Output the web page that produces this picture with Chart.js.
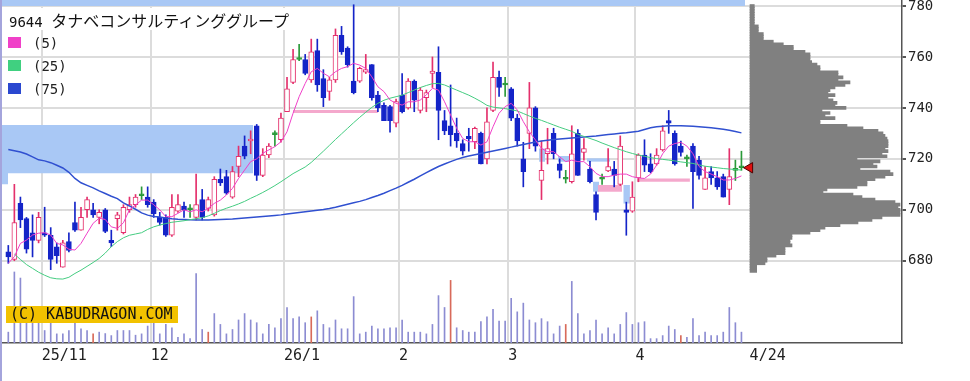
<!DOCTYPE html>
<html><head><meta charset="utf-8">
<script src="https://cdn.jsdelivr.net/npm/chart.js@4/dist/chart.umd.min.js"></script>
<style>
html,body{margin:0;padding:0;background:#fff;}
#wrap{position:relative;width:970px;height:381px;overflow:hidden;background:#fff;}
#c{position:absolute;left:0;top:0;}
#frame{position:absolute;left:0;top:0;width:2px;height:381px;background:#a4a4dc;}
#title{position:absolute;left:5px;top:8px;width:293px;height:22px;background:#fff;font:14px 'DejaVu Sans Mono';color:#111;line-height:22px;white-space:nowrap;padding-left:4px;box-sizing:border-box;}
#title .jp{font:16px 'Noto Sans CJK JP';}
.leg{position:absolute;left:8px;font:14px 'DejaVu Sans Mono';color:#222;height:12px;line-height:12px;white-space:nowrap;}
.leg i{display:inline-block;width:13px;height:11px;vertical-align:top;margin-right:12px;}
#copy{position:absolute;left:6px;top:306px;width:172px;height:17px;background:#f2c200;font:15px 'DejaVu Sans Mono';line-height:17px;color:#111;padding-left:4px;box-sizing:border-box;white-space:nowrap;}
</style></head>
<body>
<div id="wrap">
<canvas id="c" width="970" height="381"></canvas>
<div id="frame"></div>
<div id="title">9644 <span class="jp">タナベコンサルティンググループ</span></div>
<div class="leg" style="top:37px"><i style="background:#f040c8"></i>(5)</div>
<div class="leg" style="top:60px"><i style="background:#40d080"></i>(25)</div>
<div class="leg" style="top:83px"><i style="background:#2a48d0"></i>(75)</div>
<div id="copy">(C) KABUDRAGON.COM</div>
</div>
<script>
// ---- daily candles (index 0 = 2025/10/24 ... index 121 = 2026/4/24) ----
const opens = [683.5,680.5,702.5,696.5,691,688,691,690,685.5,677.5,687.5,695,692,700,700,697,700,688,696.5,691,
700,702,705.5,705,703,697,697,690,699.5,701.5,700,697,704,700.5,698,712,713,705,717,725,
727,733,713.5,721.5,729.5,727.5,738.5,750,759,759,751,762.5,751.5,746.5,751,768.5,763.5,750.5,750.5,754,
757,745,741,740.5,734,745,740,750.5,739,744,753.5,754,735,733,730,726,728.8,726.7,730,720,
739,752,749,747.5,736,720,730,740,711.5,722,730,718,712,711,730,722.5,716,706,712,715.3,
716,710,700,699.5,712.5,721.5,718,718,723.5,735,730,725,720,725,719.5,708,715,712.5,713,708,
715.5,716.5];
const highs = [686,710,705,697,698,699,701,693,687,688,691,703,701,705,702.5,700,700.5,692,699,702,
705,706,709,709,704,699,698,706,706,703,702,714,708,705,713,716,715.5,717,725,729,
731,733.5,724,726,731,738,752,763,765,761,767,767,755,752,771,772,764,780.5,756,761,
757,746.5,742,741,743.5,753.5,751.5,751,748,747,760,764,739,749,736,727.5,732,732.5,730.5,740,
758,754.5,752,748,737.5,726.5,750,740.5,727,732,732,720,715.5,733,731.5,728,719,707,714,724,
719,729,703,711,722,727.5,722,724,733,739,731,727,721.5,726,721,717,717,715,714,724,
719.5,723];
const lows = [679,680,693,683,681.5,687,689.5,676.5,679,677.5,683.5,691.5,692,697,697,694.5,691,685.5,692,690.5,
699,701,704,701,697,694,689.5,689.5,699,697,697,696,696,699.5,697.5,709.5,706,704.5,713,720,
722,711.5,713,720.5,725,726.5,738.5,749.5,758.5,753,750,746.5,740.5,743,750,761,756,745.5,750,753.5,
743,738.5,735,730.5,732.5,738,739.5,738.5,738,738.5,748,727.5,729.5,725,724.5,721.5,723,724,718,718,
738.5,744.5,744.5,735,725,709,724,723,704,718,720,712.5,710.5,710.5,713.5,719.5,710.5,696,710,715,
709,709.5,690,699,711,715,714.5,717.5,723,730,717.5,721,717,700.5,712,708,710,708,705,702,
711.5,715.5];
const closes = [681.5,695,696,684.5,688,697,690,680.5,682,687,684,692,697,704,698,699,691.5,687,698,701,
702,705,705.5,702,698.5,695,690,701,702,700,700,702,697,704,712,710.5,706.5,715,721,721,
727.8,713.5,721.5,725,729.5,736,747.5,759,759,753.5,762,749,744,751,768.5,762,757,746,755.5,755,
744,740,735,735,742.5,738.5,750.5,743,747,746,754.5,739,731,729.5,727,723,727.8,732,718,734.5,
752,748,749,736,727,715,740,725,715.5,724,722,715.5,712,722,713.5,724,711,699,712,717,
713.5,725,699,705,721.5,717.5,715,721.5,731,734,718,722.5,720,715,713.5,712.5,712.5,709,705,713,
715.5,716.5];
// ---- volume (thousand shares) ----
const volumes = [10.7,70,64,21.7,21.7,20,12.3,20.7,9,9,12.3,19.3,14,12.3,9,10.7,9.3,7.3,12.3,12.3,
12.3,7.7,9,16.7,21.7,9,18.3,15,5.7,9,4.3,68.3,13.3,10.7,29,18.3,9,13.3,22.7,29,
22.7,20,9,18.3,15,24,35,24,25.7,20,25.7,31.7,18.3,15,22.7,14,14,45.7,9,10.7,
16.7,14,14,15,15,22.7,10.7,10.7,10.7,9,18.3,46.7,35,61.7,15,12.3,10.7,10.7,21,25.7,
33.3,21.7,21.7,44,30.7,39.3,22.7,20,24,21,9,16.7,18.3,60.7,29,9,12.3,22.7,9,15,
9,18.3,30,18.3,20,21,4.3,4.3,7.3,16.7,13.3,7.3,5.7,24,7.3,10.7,7.3,7.3,10.7,35,
20,10.7];
const redVolumeDays = [14,33,50,73,92,111];
// ---- moving averages ----
const ma5 = [679,681.6,686.8,688.1,690.1,690.8,691,690.1,686.8,686.2,684.5,684.2,686.8,690.8,694.7,696.7,696.2,693.3,692.7,694.9,
700,701.9,703.8,703.8,702,700,697.3,697.3,698.6,700,699.2,700,699.2,700.6,702.5,703.8,705.8,708.4,712.3,715.6,
718.9,720,722.2,723.5,724.8,726.7,730.6,737.9,744.4,749.6,754.2,755.5,753.6,752.2,754.2,755.5,756.2,757.5,756.8,755.5,
752.2,748.3,746.4,743.1,741.8,741.1,742.4,742.4,743.1,745.1,747.7,747,742.4,737.2,732,728,726.7,726.7,725.4,726.7,
732.6,737.9,740.5,741.8,739.2,734.6,730.6,727.4,724.1,722.8,722.8,720.8,718.9,719.5,718.9,718.9,716.9,714.3,713,713,
713.6,714,714,713,712.5,712.3,714,717.5,722,725,726,726.5,725,722,717,715,714,713,711.7,711.7,
712.3,713.3];
const ma25 = [null,682.6,680.5,678.5,677,675.5,674.3,673.3,672.9,672.8,673.5,675,676.3,677.8,679.3,680.9,683,685.5,687.5,689,
690,690.5,691,692.3,693.3,694,694.6,695.1,695.4,695.7,696.1,696.5,696.9,697.6,698.6,699.7,700.6,701.4,702.3,703.3,
704.5,705.6,706.8,708.1,709.5,711,712.6,714.2,715.5,716.8,718.6,720.8,723,725.3,727.6,729.8,732,734.2,736.3,738.3,
740.2,741.8,743,743.8,744.4,745,746,747,748,748.8,749.5,749.6,749,748,747,746,745,743.8,742.5,741,
740.3,740,739.7,739.3,738.8,737.8,736.8,735.9,735.1,734.2,733.3,732.4,731.6,730.8,729.6,728.8,728,727.2,726.2,725.3,
724.4,723.6,722.8,722.1,721.5,721,720.5,720.1,719.8,719.5,719.2,718.8,718.5,718.2,717.6,717.1,716.8,716.5,716.2,716,
715.8,715.6];
const ma75 = [723.7,723.2,722.7,721.9,720.8,719.6,719.2,718.5,717.5,716.4,714.7,712.3,710.6,709.6,708.6,707.4,706.4,705.3,704.4,702.7,
701.5,700.2,698.8,697.9,697.4,697.2,696.8,696.5,696.3,696.2,696.1,696,696,696,696.1,696.2,696.3,696.4,696.6,696.8,
697,697.2,697.4,697.6,697.8,698,698.3,698.6,698.9,699.2,699.5,699.8,700.1,700.5,701,701.6,702.2,702.8,703.3,704,
704.8,705.6,706.5,707.5,708.5,709.6,710.8,712,713.3,714.6,715.8,717,718,718.9,719.8,720.5,721.1,721.6,722.1,722.6,
723.1,723.6,724.1,724.6,725.1,725.6,726.1,726.6,727,727.3,727.6,727.8,728,728.2,728.4,728.6,728.8,729,729.3,729.6,
729.8,730,730.2,730.5,730.8,731.5,732.2,732.6,732.8,733,733,733,732.9,732.8,732.6,732.4,732.2,731.9,731.6,731.2,
730.7,730.2];
// ---- axis ticks ----
const monthStartIdx = [6,24,46,65,83,104];
const xTickLabels = ['25/11','12','26/1','2','3','4','4/24'];
const priceTicks = [680,700,720,740,760,780];
// ---- price-by-volume profile (780 down to 676, 1 yen steps) ----
const profileTopPrice = 780;
const profileVol = [4.3,4.3,4.3,4.3,4.3,4.3,4.3,4.3,8.3,8.3,8.3,13.3,13.3,13.3,23.3,33.3,43.3,43.3,55,60,
60,60,61.7,67,70,70,88,88,93,88,100,95,85,80,78,85,78,83,87,85,
96,72,80,75,85,70,70,97,113,128,133,135,137,138,138,138,135,138,132,137,
107,130,123,127,110,140,143,135,125,117,117,107,77,73,103,112,125,145,150,148,
150,150,150,132,122,108,90,75,70,60,42,42,40,40,42,35,35,35,26,17,
17,15,6.7,6.7,6.7];
// ---- shaded zones ----
const upperZoneX = [-1.04, 56.7, 121.6];
const upperZoneY = [771.8, 780, 780];
const midZoneX = [-1.04, -0.05, 30.8, 40.4];
const midZoneY = [707.1, 710, 714.3, 714.3];
const midZoneTop = 733.3;
const gapBoxes = [ // fromIdx, toIdx, low, high, kind
  [47, 61, 738, 739.2, 'up'],
  [103.7, 112.5, 711, 712.3, 'up'],
  [97.3, 101.3, 707.1, 709.7, 'up'],
  [87.6, 88.6, 718.9, 724.1, 'down'],
  [90.7, 92.7, 718.9, 721.1, 'down'],
  [95.5, 99.3, 718.9, 720.2, 'down'],
  [96.5, 97.5, 707.1, 711, 'down'],
  [101.5, 102.6, 702.5, 709.7, 'down']
];

const UP = '#e4306c', DOWN = '#1424c8', EVEN = '#2a9a3a';
const ZONE = '#a9c8f5', GAPUP = '#f4a8cc';
const n = closes.length;
const kind = i => closes[i] > opens[i] ? UP : (closes[i] < opens[i] ? DOWN : EVEN);
const candleCol = closes.map((c, i) => kind(i));
const idx = closes.map((c, i) => i);

const datasets = [];
datasets.push({type:'line', data: upperZoneX.map((x,i)=>({x, y:upperZoneY[i]})), stepped:'after',
  fill:'end', backgroundColor: ZONE, borderWidth:0, borderColor:'rgba(0,0,0,0)', pointRadius:0, order:20});
datasets.push({type:'line', data: midZoneX.map((x,i)=>({x, y:midZoneY[i]})), stepped:'after',
  fill:{value: midZoneTop}, backgroundColor: ZONE, borderWidth:0, borderColor:'rgba(0,0,0,0)', pointRadius:0, order:20});
gapBoxes.forEach(b => datasets.push({type:'line', data:[{x:b[0], y:b[2]}, {x:b[1], y:b[2]}],
  fill:{value:b[3]}, backgroundColor: b[4]==='up' ? GAPUP : ZONE, borderWidth:0, borderColor:'rgba(0,0,0,0)', pointRadius:0, order:19}));
datasets.push({type:'bar', yAxisID:'yVol', data: volumes.map((v,i)=>({x:i, y:v})),
  backgroundColor: volumes.map((v,i)=> redVolumeDays.includes(i) ? '#d86a5a' : '#8c8cd2'),
  barThickness:1, grouped:false, order:15});
datasets.push({type:'bar', indexAxis:'y', xAxisID:'xProf', yAxisID:'yProf',
  data: profileVol.map((v,i)=>({x:v, y: profileTopPrice - i})),
  backgroundColor:'#808080', barThickness:3, grouped:false, order:14});
datasets.push({type:'bar', data: idx.map(i=>({x:i, y:[lows[i], highs[i]]})),
  backgroundColor: candleCol, barThickness:1, grouped:false, order:6});
datasets.push({type:'bar', data: idx.map(i=>({x:i, y:[Math.min(opens[i],closes[i]), Math.max(opens[i],closes[i])]})),
  backgroundColor: idx.map(i => kind(i)===UP ? '#ffffff' : kind(i)),
  borderColor: candleCol, borderWidth:1, borderSkipped:false, minBarLength:2,
  barThickness:5, grouped:false, order:5});
datasets.push({type:'line', data: ma75.map((v,i)=>({x:i, y:v})), borderColor:'#3050d0', borderWidth:1.5, pointRadius:0, tension:0, fill:false, order:3});
datasets.push({type:'line', data: ma25.map((v,i)=>({x:i, y:v})), borderColor:'#44cc80', borderWidth:1, pointRadius:0, tension:0, fill:false, order:2});
datasets.push({type:'line', data: ma5.map((v,i)=>({x:i, y:v})), borderColor:'#f040c8', borderWidth:1, pointRadius:0, tension:0, fill:false, order:1});
datasets.push({type:'scatter', data:[{x: n + 0.35, y: closes[n-1]}], pointStyle:'triangle', rotation:-90,
  pointRadius:6, backgroundColor:'#e01010', borderColor:'#500000', borderWidth:1, order:0, clip:false});

const tickPos = monthStartIdx.map(i => i - 0.5).concat([n + 0.35]);

new Chart(document.getElementById('c'), {
  type: 'bar',
  data: { datasets },
  options: {
    responsive:false, animation:false, devicePixelRatio:1,
    layout:{padding:{left:2, top:0, right:0, bottom:0}, autoPadding:false},
    plugins:{legend:{display:false}, tooltip:{enabled:false}},
    events:[],
    scales:{
      x:{type:'linear', min:-1.04, max:147.5, offset:false, position:'bottom',
        grid:{color: c => c.index === tickPos.length-1 ? 'rgba(0,0,0,0)' : '#dcdcdc', lineWidth:2, drawTicks:false, offset:false},
        border:{display:true, color:'#555', width:1.5},
        ticks:{align:'start', autoSkip:false, maxRotation:0, padding:4, color:'#222',
          font:{family:'DejaVu Sans Mono', size:15}, callback:(v,i)=>xTickLabels[i]},
        afterBuildTicks: s => { s.ticks = tickPos.map(v=>({value:v})); },
        afterFit: s => { s.height = 38; s.paddingLeft = 0; s.paddingRight = 0; }
      },
      y:{type:'linear', position:'right', min:647.7, max:782.36, offset:false,
        grid:{color:'#dcdcdc', lineWidth:2, tickColor:'#555', tickLength:4, drawTicks:true},
        border:{display:true, color:'#555', width:1.5},
        ticks:{padding:2, color:'#222', font:{family:'DejaVu Sans Mono', size:14}, callback: v => String(v)},
        afterBuildTicks: s => { s.ticks = priceTicks.map(v=>({value:v})); },
        afterFit: s => { s.width = 68; s.paddingTop = 0; s.paddingBottom = 0; }
      },
      yVol:{type:'linear', axis:'y', display:false, min:0, max:338, offset:false},
      xProf:{type:'linear', axis:'x', display:false, min:-748, max:152, offset:false},
      yProf:{type:'linear', axis:'y', display:false, min:647.7, max:782.36, offset:false}
    }
  }
});
</script>
</body></html>
